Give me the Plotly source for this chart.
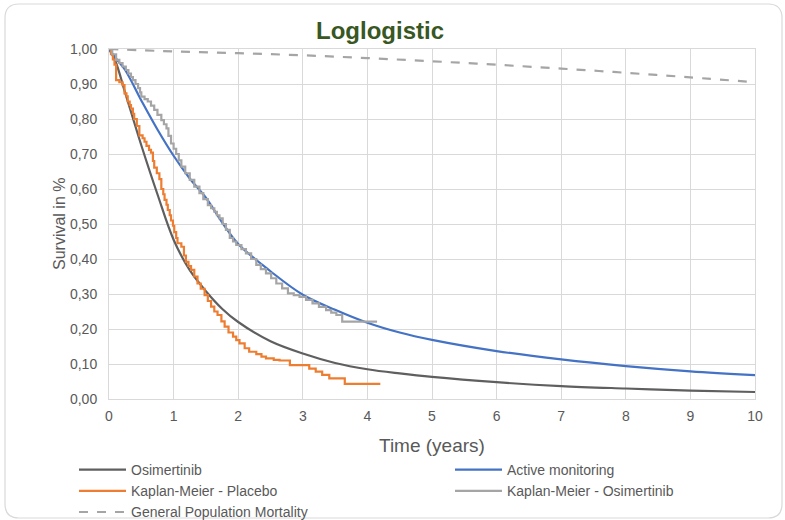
import plotly.graph_objects as go

# ---- data ----
t_model = [0, 0.1, 0.25, 0.5, 0.75, 1, 1.25, 1.5, 1.75, 2, 2.5, 3, 3.5, 4, 4.5, 5, 6, 7, 8, 9, 10]
osimertinib = [1.0, 0.965, 0.875, 0.725, 0.585, 0.455, 0.368, 0.308, 0.258, 0.22, 0.165, 0.13, 0.103, 0.085, 0.073, 0.063, 0.048, 0.037, 0.030, 0.024, 0.020]
active_monitoring = [1.0, 0.975, 0.94, 0.853, 0.77, 0.695, 0.63, 0.575, 0.505, 0.443, 0.365, 0.298, 0.255, 0.218, 0.19, 0.169, 0.137, 0.113, 0.094, 0.079, 0.068]

t_gpm = [0, 1, 2, 3, 4, 5, 6, 7, 8, 9, 10]
gen_pop = [1.0, 0.993, 0.988, 0.982, 0.974, 0.965, 0.955, 0.944, 0.932, 0.919, 0.905]

t_km_placebo = [0, 0.03, 0.06, 0.085, 0.11, 0.16, 0.21, 0.24, 0.27, 0.29, 0.32, 0.34, 0.37, 0.39, 0.43, 0.47, 0.52, 0.55, 0.58, 0.62,
                0.65, 0.68, 0.70, 0.74, 0.78, 0.81, 0.84, 0.86, 0.89, 0.91, 0.94, 0.96, 0.99,
                1.01, 1.04, 1.06, 1.12, 1.16, 1.19, 1.23, 1.27, 1.32, 1.37, 1.42, 1.48, 1.53, 1.58, 1.63, 1.68, 1.74, 1.79, 1.85,
                1.92, 1.97, 2.02, 2.1, 2.17, 2.28, 2.36, 2.43, 2.55, 2.64, 2.8,
                3.1, 3.2, 3.3, 3.41, 3.65, 4.2]
km_placebo = [1.0, 0.985, 0.97, 0.955, 0.911, 0.905, 0.897, 0.873, 0.865, 0.85, 0.84, 0.83, 0.815, 0.80, 0.78, 0.753, 0.745, 0.735, 0.723, 0.712,
              0.704, 0.68, 0.661, 0.645, 0.628, 0.60, 0.585, 0.569, 0.555, 0.54, 0.525, 0.51, 0.495,
              0.477, 0.46, 0.445, 0.435, 0.41, 0.392, 0.38, 0.369, 0.35, 0.33, 0.315, 0.297, 0.28, 0.264, 0.25, 0.24, 0.222, 0.207, 0.19,
              0.178, 0.168, 0.159, 0.145, 0.135, 0.128, 0.121, 0.116, 0.112, 0.11, 0.097,
              0.087, 0.078, 0.069, 0.059, 0.043, 0.043]

t_km_osim = [0, 0.05, 0.11, 0.16, 0.21, 0.26, 0.3, 0.34, 0.37, 0.41, 0.45, 0.48, 0.50, 0.55, 0.60, 0.65, 0.70, 0.75, 0.81, 0.85,
             0.89, 0.92, 0.96, 1.0, 1.04, 1.08, 1.12, 1.18, 1.25, 1.32, 1.40, 1.46, 1.53, 1.58, 1.63, 1.67, 1.71,
             1.76, 1.81, 1.87, 1.92, 1.97, 2.05, 2.12, 2.2, 2.28, 2.35, 2.43, 2.51, 2.59, 2.68, 2.77, 2.86, 2.95, 3.05, 3.15,
             3.25, 3.36, 3.44, 3.52, 3.61, 4.15]
km_osim = [1.0, 0.985, 0.969, 0.96, 0.95, 0.94, 0.93, 0.92, 0.911, 0.9, 0.888, 0.876, 0.864, 0.857, 0.85, 0.838, 0.826, 0.812, 0.797, 0.785,
           0.773, 0.752, 0.73, 0.715, 0.70, 0.682, 0.664, 0.645, 0.626, 0.607, 0.588, 0.571, 0.554, 0.545, 0.535, 0.525, 0.516,
           0.5, 0.483, 0.46, 0.45, 0.44, 0.428, 0.416, 0.4, 0.383, 0.371, 0.359, 0.345, 0.33, 0.316, 0.302, 0.297, 0.292, 0.283, 0.273,
           0.263, 0.254, 0.247, 0.24, 0.221, 0.221]

x_ticks = [0, 1, 2, 3, 4, 5, 6, 7, 8, 9, 10]
y_ticks = [0, 0.1, 0.2, 0.3, 0.4, 0.5, 0.6, 0.7, 0.8, 0.9, 1.0]

# ---- figure ----
FONT = "Liberation Sans, Arial, sans-serif"
W, H = 785, 520
L, R, T, B = 109, 30, 49, 121
PW, PH = W - L - R, H - T - B
LW = 2.2

fig = go.Figure()
fig.add_trace(go.Scatter(x=t_model, y=osimertinib, name="Osimertinib", mode="lines", legend="legend",
                         line=dict(color="#5f5f5f", width=LW, shape="spline", smoothing=1.0)))
fig.add_trace(go.Scatter(x=t_model, y=active_monitoring, name="Active monitoring", mode="lines", legend="legend2",
                         line=dict(color="#4472C4", width=LW, shape="spline", smoothing=1.0)))
fig.add_trace(go.Scatter(x=t_km_placebo, y=km_placebo, name="Kaplan-Meier - Placebo", mode="lines", legend="legend",
                         line=dict(color="#ED7D31", width=LW, shape="hv")))
fig.add_trace(go.Scatter(x=t_km_osim, y=km_osim, name="Kaplan-Meier - Osimertinib", mode="lines", legend="legend2",
                         line=dict(color="#A5A5A5", width=LW, shape="hv")))
fig.add_trace(go.Scatter(x=t_gpm, y=gen_pop, name="General Population Mortality", mode="lines", legend="legend",
                         line=dict(color="#A5A5A5", width=LW, dash="dash", shape="spline")))


def px2x(px):
    return (px - L) / PW


def px2y(py):
    return (H - B - py) / PH


# rounded chart frame
x0, x1, y0, y1, r = 5, 782, 4, 518, 14
path = (f"M {px2x(x0 + r)} {px2y(y0)} L {px2x(x1 - r)} {px2y(y0)} "
        f"Q {px2x(x1)} {px2y(y0)} {px2x(x1)} {px2y(y0 + r)} "
        f"L {px2x(x1)} {px2y(y1 - r)} Q {px2x(x1)} {px2y(y1)} {px2x(x1 - r)} {px2y(y1)} "
        f"L {px2x(x0 + r)} {px2y(y1)} Q {px2x(x0)} {px2y(y1)} {px2x(x0)} {px2y(y1 - r)} "
        f"L {px2x(x0)} {px2y(y0 + r)} Q {px2x(x0)} {px2y(y0)} {px2x(x0 + r)} {px2y(y0)} Z")
fig.add_shape(type="path", path=path, xref="paper", yref="paper",
              line=dict(color="#D9D9D9", width=1.2), layer="below")

# axis titles as annotations (fixed positions)
fig.add_annotation(text="Survival in %", xref="paper", yref="paper", x=px2x(59), y=px2y(224),
                   xanchor="center", yanchor="middle", textangle=-90, showarrow=False,
                   font=dict(family=FONT, size=16, color="#595959"))
fig.add_annotation(text="Time (years)", xref="paper", yref="paper", x=px2x(432), y=px2y(445),
                   xanchor="center", yanchor="middle", showarrow=False,
                   font=dict(family=FONT, size=19, color="#595959"))

legend_common = dict(orientation="v", xref="container", yref="container", xanchor="left", yanchor="top",
                     font=dict(family=FONT, size=14, color="#595959"), itemwidth=47,
                     tracegroupgap=0, bgcolor="rgba(0,0,0,0)")

fig.update_layout(
    width=W, height=H,
    margin=dict(l=L, r=R, t=T, b=B, autoexpand=False),
    paper_bgcolor="white", plot_bgcolor="white",
    separators=", ",
    title=dict(text="<b>Loglogistic</b>", x=380 / W, xref="container", xanchor="center",
               y=1 - 31 / H, yref="container", yanchor="middle",
               font=dict(family=FONT, size=24, color="#385723")),
    font=dict(family=FONT, color="#595959", size=13),
    showlegend=True,
    legend=dict(x=74 / W, y=1 - 454 / H, **legend_common),
    legend2=dict(x=450 / W, y=1 - 454 / H, **legend_common),
)
fig.update_xaxes(range=[0, 10], tickvals=x_ticks, ticktext=[str(v) for v in x_ticks],
                 showgrid=True, gridcolor="#D9D9D9", gridwidth=1, automargin=False,
                 showline=True, linecolor="#D9D9D9", mirror=True, zeroline=False,
                 ticks="outside", ticklen=4, tickcolor="rgba(0,0,0,0)",
                 tickfont=dict(family=FONT, size=14, color="#595959"))
fig.update_yaxes(range=[0, 1.0], tickvals=y_ticks, tickformat=".2f",
                 showgrid=True, gridcolor="#D9D9D9", gridwidth=1, automargin=False,
                 showline=True, linecolor="#D9D9D9", mirror=True, zeroline=False,
                 ticks="outside", ticklen=8, tickcolor="rgba(0,0,0,0)",
                 tickfont=dict(family=FONT, size=14, color="#595959"))

fig.write_html("out.html", post_script="document.body.style.margin='0px';",
               config={"displayModeBar": False})
